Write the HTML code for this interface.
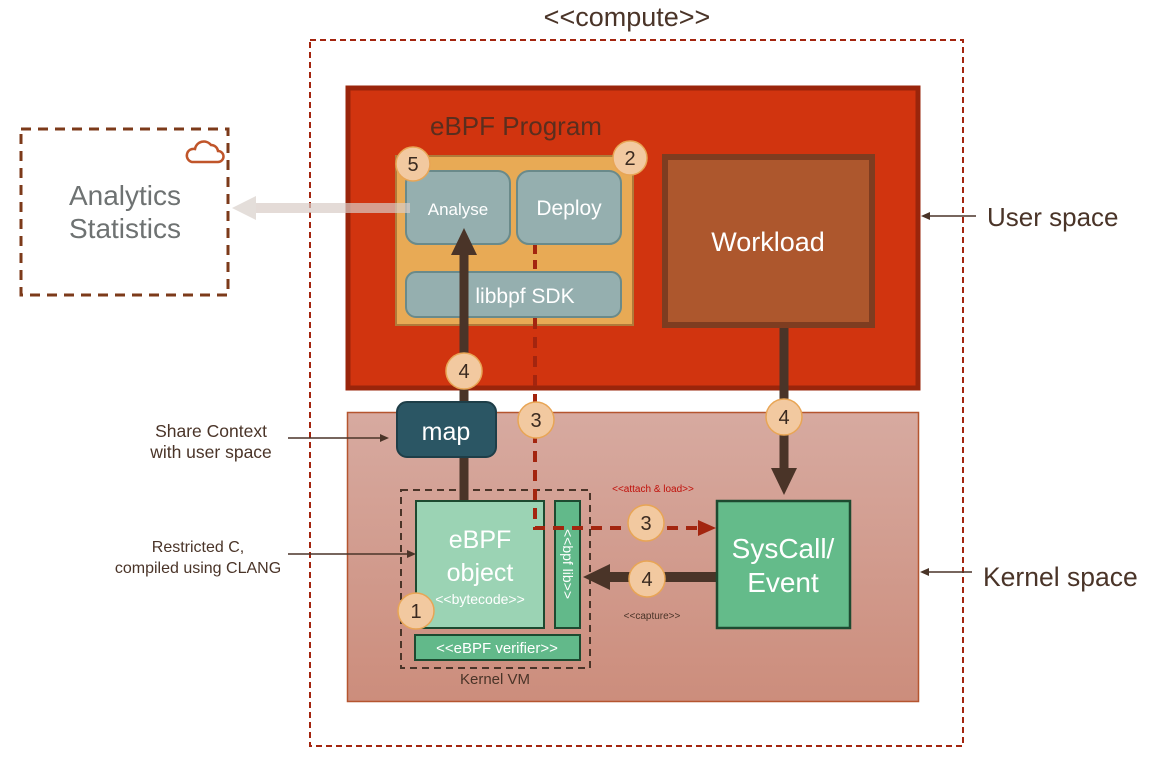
<!DOCTYPE html>
<html><head><meta charset="utf-8"><style>html,body{margin:0;padding:0;background:#fff;}svg{display:block;}</style></head>
<body>
<svg width="1169" height="757" viewBox="0 0 1169 757" xmlns="http://www.w3.org/2000/svg" font-family="Liberation Sans, sans-serif">
<defs>
<linearGradient id="kg" x1="0" y1="0" x2="0" y2="1"><stop offset="0" stop-color="#d7aaa0"/><stop offset="1" stop-color="#cc8d7c"/></linearGradient>
</defs>
<text x="627" y="26" text-anchor="middle" font-size="27" fill="#4a3428">&lt;&lt;compute&gt;&gt;</text>
<rect x="310" y="40" width="653" height="706" fill="none" stroke="#a3250f" stroke-width="2" stroke-dasharray="6 4"/>
<!-- analytics -->
<rect x="21" y="129" width="207" height="166" fill="#fff" stroke="#7c3a1a" stroke-width="3" stroke-dasharray="10 7"/>
<path d="M192 162 h26 a5 5 0 0 0 0 -11 a7 7 0 0 0 -7 -6 a9 9 0 0 0 -16 4 a6 6 0 0 0 -3 13z" fill="none" stroke="#c0552a" stroke-width="2.5"/>
<text x="125" y="205" text-anchor="middle" font-size="28" fill="#6e7272">Analytics</text>
<text x="125" y="238" text-anchor="middle" font-size="28" fill="#6e7272">Statistics</text>
<!-- eBPF program -->
<rect x="348" y="88" width="570" height="300" fill="#d1340f" stroke="#9a250b" stroke-width="5"/>
<text x="430" y="135" font-size="26" fill="#5a2e1e">eBPF Program</text>
<rect x="396" y="156" width="237" height="169" fill="#e8aa55" stroke="#b07a3a" stroke-width="2"/>
<rect x="406" y="171" width="104" height="73" rx="12" fill="#95afaf" stroke="#6a8a8a" stroke-width="2"/>
<text x="458" y="215" text-anchor="middle" font-size="17" fill="#fff">Analyse</text>
<rect x="517" y="171" width="104" height="73" rx="12" fill="#95afaf" stroke="#6a8a8a" stroke-width="2"/>
<text x="569" y="215" text-anchor="middle" font-size="21" fill="#fff">Deploy</text>
<rect x="406" y="272" width="215" height="45" rx="10" fill="#95afaf" stroke="#6a8a8a" stroke-width="2"/>
<text x="525" y="303" text-anchor="middle" font-size="21" fill="#fff">libbpf SDK</text>
<rect x="665" y="157" width="207" height="168" fill="#ad572d" stroke="#7e3c20" stroke-width="6"/>
<text x="768" y="251" text-anchor="middle" font-size="27" fill="#fff">Workload</text>
<!-- grey arrow -->
<line x1="410" y1="208" x2="255" y2="208" stroke="#d8ccc6" stroke-opacity="0.7" stroke-width="10"/>
<polygon points="232,208 256,196 256,220" fill="#e4deda"/>
<!-- kernel -->
<rect x="347.5" y="412.5" width="571" height="289" fill="url(#kg)" stroke="#b5552f" stroke-width="1.5"/>
<rect x="401" y="490" width="189" height="178" fill="none" stroke="#4a3428" stroke-width="2" stroke-dasharray="7 5"/>
<text x="495" y="684" text-anchor="middle" font-size="15" fill="#4a3428">Kernel VM</text>
<!-- dark arrows -->
<line x1="464" y1="500" x2="464" y2="255" stroke="#4a3428" stroke-width="9"/>
<polygon points="464,228 451,255 477,255" fill="#4a3428"/>
<line x1="784" y1="328" x2="784" y2="468" stroke="#4a3428" stroke-width="9"/>
<polygon points="784,495 771,468 797,468" fill="#4a3428"/>
<line x1="717" y1="577" x2="610" y2="577" stroke="#4a3428" stroke-width="10"/>
<polygon points="583,577 610,564 610,590" fill="#4a3428"/>
<rect x="397" y="402" width="99" height="55" rx="10" fill="#2b5664" stroke="#1e3e48" stroke-width="2"/>
<text x="446" y="440" text-anchor="middle" font-size="25" fill="#fff">map</text>
<text x="653" y="492" text-anchor="middle" font-size="10" fill="#c0100a">&lt;&lt;attach &amp; load&gt;&gt;</text>
<text x="652" y="619" text-anchor="middle" font-size="10" fill="#4a3428">&lt;&lt;capture&gt;&gt;</text>
<!-- green -->
<rect x="416" y="501" width="128" height="127" fill="#9bd3b4" stroke="#1d4a30" stroke-width="2"/>
<text x="480" y="548" text-anchor="middle" font-size="25" fill="#fff">eBPF</text>
<text x="480" y="581" text-anchor="middle" font-size="25" fill="#fff">object</text>
<text x="480" y="604" text-anchor="middle" font-size="14" fill="#fff">&lt;&lt;bytecode&gt;&gt;</text>
<rect x="555" y="501" width="25" height="127" fill="#62b98a" stroke="#1d4a30" stroke-width="2"/>
<text transform="translate(563,564) rotate(90)" text-anchor="middle" font-size="14" fill="#fff">&lt;&lt;bpf lib&gt;&gt;</text>
<rect x="415" y="635" width="165" height="25" fill="#62b98a" stroke="#1d4a30" stroke-width="2"/>
<text x="497" y="653" text-anchor="middle" font-size="15" fill="#fff">&lt;&lt;eBPF verifier&gt;&gt;</text>
<rect x="717" y="501" width="133" height="127" fill="#64bb8a" stroke="#1d4a30" stroke-width="2.5"/>
<text x="783" y="558" text-anchor="middle" font-size="28" fill="#fff">SysCall/</text>
<text x="783" y="592" text-anchor="middle" font-size="28" fill="#fff">Event</text>
<!-- red dashed -->
<path d="M535 318 V528 H700" fill="none" stroke="#a3250f" stroke-width="4" stroke-dasharray="11 8"/>
<path d="M535 245 V272" fill="none" stroke="#a3250f" stroke-width="4" stroke-dasharray="9 6"/>
<polygon points="716,528 698,520 698,536" fill="#a3250f"/>
<!-- circles -->
<g fill="#f2c9a0" stroke="#e8a555" stroke-width="1.5">
<circle cx="413" cy="164" r="17"/><circle cx="630" cy="158" r="17"/>
<circle cx="464" cy="371" r="18"/><circle cx="536" cy="420" r="18"/>
<circle cx="784" cy="417" r="18"/><circle cx="646" cy="523" r="18"/>
<circle cx="647" cy="579" r="18"/><circle cx="416" cy="611" r="18"/>
</g>
<g font-size="20" fill="#3a2a20" text-anchor="middle">
<text x="413" y="171">5</text><text x="630" y="165">2</text>
<text x="464" y="378">4</text><text x="536" y="427">3</text>
<text x="784" y="424">4</text><text x="646" y="530">3</text>
<text x="647" y="586">4</text><text x="416" y="618">1</text>
</g>
<!-- side labels -->
<text x="987" y="226" font-size="26" fill="#4a3428">User space</text>
<line x1="976" y1="216" x2="928" y2="216" stroke="#4a3428" stroke-width="1.5"/>
<polygon points="921,216 930,212 930,220" fill="#4a3428"/>
<text x="983" y="586" font-size="26.5" fill="#4a3428">Kernel space</text>
<line x1="972" y1="572" x2="927" y2="572" stroke="#4a3428" stroke-width="1.5"/>
<polygon points="920,572 929,568 929,576" fill="#4a3428"/>
<text x="211" y="437" text-anchor="middle" font-size="17.5" fill="#4a3428">Share Context</text>
<text x="211" y="458" text-anchor="middle" font-size="17.5" fill="#4a3428">with user space</text>
<line x1="288" y1="438" x2="381" y2="438" stroke="#4a3428" stroke-width="1.5"/>
<polygon points="389,438 380,434 380,442" fill="#4a3428"/>
<text x="198" y="552" text-anchor="middle" font-size="16" fill="#4a3428">Restricted C,</text>
<text x="198" y="573" text-anchor="middle" font-size="16" fill="#4a3428">compiled using CLANG</text>
<line x1="288" y1="554" x2="408" y2="554" stroke="#4a3428" stroke-width="1.5"/>
<polygon points="416,554 407,550 407,558" fill="#4a3428"/>
</svg>
</body></html>
